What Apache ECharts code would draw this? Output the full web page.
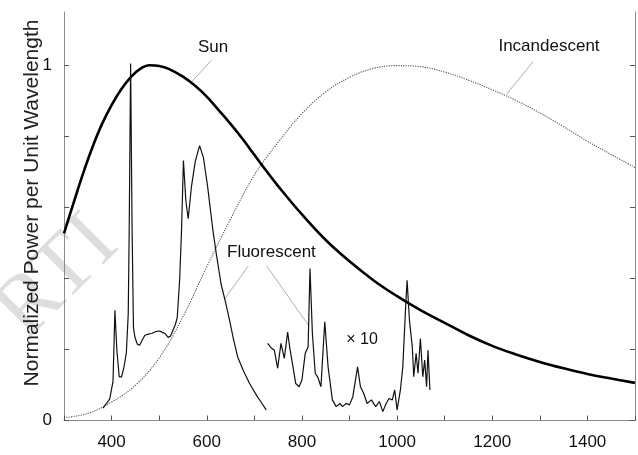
<!DOCTYPE html>
<html>
<head>
<meta charset="utf-8">
<script src="https://cdn.jsdelivr.net/npm/echarts@6/dist/echarts.min.js"></script>
<style>html,body{margin:0;padding:0;background:#fff;}#c{width:638px;height:455px;}</style>
</head>
<body>
<div id="c"></div>
<script>
// ---- data ----
const sunX = [300, 320, 340, 360, 380, 400, 420, 440, 460, 480, 500, 520, 550, 575, 600, 625, 650, 675, 700, 725, 750, 800, 850, 900, 950, 1000, 1050, 1100, 1150, 1200, 1250, 1300, 1350, 1400, 1450, 1500];
const sunY = [0.527, 0.612, 0.695, 0.77, 0.835, 0.888, 0.932, 0.966, 0.99, 1.0, 0.998, 0.99, 0.968, 0.943, 0.912, 0.874, 0.835, 0.793, 0.748, 0.703, 0.66, 0.58, 0.508, 0.448, 0.395, 0.35, 0.31, 0.275, 0.24, 0.21, 0.186, 0.165, 0.147, 0.131, 0.118, 0.106];

const incX = [300, 350, 400, 450, 500, 550, 600, 650, 700, 750, 800, 850, 900, 950, 1000, 1050, 1100, 1150, 1200, 1250, 1300, 1350, 1400, 1450, 1500];
const incY = [0.008, 0.02, 0.052, 0.099, 0.176, 0.292, 0.433, 0.567, 0.691, 0.783, 0.864, 0.925, 0.966, 0.991, 0.999, 0.996, 0.981, 0.958, 0.931, 0.901, 0.866, 0.827, 0.786, 0.749, 0.712];

const fluorX1 = [382, 396, 403, 407, 411, 416, 421, 426, 431, 435, 437, 440, 443, 446, 449, 454, 459, 465, 470, 477, 484, 492, 501, 507, 512, 519, 524, 529, 534, 538, 543, 547, 551, 556, 561, 568, 576, 585, 593, 602, 608, 613, 620, 630, 640, 648, 656, 665, 677, 690, 705, 715, 725];
const fluorY1 = [0.035, 0.06, 0.11, 0.31, 0.2, 0.123, 0.123, 0.15, 0.19, 0.3, 0.535, 1.005, 0.55, 0.26, 0.235, 0.215, 0.212, 0.228, 0.24, 0.243, 0.245, 0.25, 0.252, 0.248, 0.245, 0.234, 0.238, 0.254, 0.27, 0.29, 0.395, 0.535, 0.732, 0.62, 0.568, 0.66, 0.73, 0.774, 0.74, 0.657, 0.59, 0.535, 0.47, 0.385, 0.33, 0.282, 0.23, 0.179, 0.14, 0.104, 0.07, 0.05, 0.03];

const fluorX2 = [728, 735, 742, 749, 756, 763, 770, 775, 780, 787, 794, 800, 807, 813, 817, 822, 828, 833, 840, 848, 855, 864, 872, 880, 885, 893, 900, 907, 917, 923, 930, 937, 946, 955, 963, 970, 977, 983, 990, 995, 1000, 1007, 1012, 1018, 1021, 1026, 1032, 1035, 1040, 1044, 1049, 1054, 1058, 1062, 1065, 1069];
const fluorY2 = [0.217, 0.205, 0.198, 0.147, 0.217, 0.175, 0.249, 0.2, 0.161, 0.104, 0.095, 0.114, 0.189, 0.207, 0.428, 0.245, 0.133, 0.123, 0.095, 0.278, 0.151, 0.058, 0.039, 0.048, 0.039, 0.048, 0.044, 0.067, 0.151, 0.095, 0.076, 0.048, 0.058, 0.039, 0.053, 0.025, 0.048, 0.062, 0.058, 0.086, 0.03, 0.086, 0.151, 0.32, 0.395, 0.282, 0.207, 0.123, 0.189, 0.133, 0.231, 0.123, 0.17, 0.095, 0.198, 0.086];

const xTicks = { min: 300, max: 1500, step: 100, labelStep: 200 };
const yTickValues = [0, 0.2, 0.4, 0.6, 0.8, 1.0];
const yLabelValues = [0, 1];
const yTitle = 'Normalized Power per Unit Wavelength';

const zip = (xs, ys) => xs.map((x, i) => [x, ys[i]]);

const FONT = "'Liberation Sans', Arial, Helvetica, sans-serif";
const axisGray = '#8a8a8a';

const chart = echarts.init(document.getElementById('c'), null, { renderer: 'canvas' });

const yAxisCommon = {
  type: 'value', min: 0, max: 1.15,
  axisLine: { show: true, lineStyle: { color: axisGray, width: 1 } },
  axisTick: { show: true, inside: true, length: 5, customValues: yTickValues, lineStyle: { color: '#555' } },
  splitLine: { show: false }
};

chart.setOption({
  animation: false,
  backgroundColor: '#fff',
  grid: { left: 64, right: 1, top: 12, bottom: 34.5, containLabel: false },
  xAxis: {
    type: 'value', min: xTicks.min, max: xTicks.max, interval: xTicks.step,
    axisLine: { show: true, lineStyle: { color: axisGray, width: 1 } },
    axisTick: { show: true, inside: true, length: 5, lineStyle: { color: '#555' } },
    axisLabel: {
      margin: 13, color: '#111', fontSize: 17, fontFamily: FONT,
      formatter: v => (v % xTicks.labelStep === 0 && v > xTicks.min && v < xTicks.max) ? String(v) : ''
    },
    splitLine: { show: false }
  },
  yAxis: [
    Object.assign({}, yAxisCommon, {
      position: 'left',
      axisLabel: { show: true, customValues: yLabelValues, margin: 12, color: '#111', fontSize: 17, fontFamily: FONT,
        formatter: v => (v === 0 || v === 1) ? String(v) : '' }
    }),
    Object.assign({}, yAxisCommon, {
      position: 'right',
      axisLabel: { show: false }
    })
  ],
  graphic: [
    { type: 'text', x: 58, y: 278, rotation: Math.PI / 4, z: -1, silent: true,
      style: { text: 'RTI', fontSize: 86, fontFamily: "'Liberation Serif', 'DejaVu Serif', serif", fill: '#dedede', align: 'center', verticalAlign: 'middle' } },
    { type: 'text', x: 32, y: 203, rotation: Math.PI / 2,
      style: { text: yTitle, fontSize: 21, fontFamily: FONT, fill: '#222', align: 'center', verticalAlign: 'middle' } },
    { type: 'text', x: 213, y: 47, style: { text: 'Sun', fontSize: 17, fontFamily: FONT, fill: '#111', align: 'center', verticalAlign: 'middle' } },
    { type: 'line', shape: { x1: 211.7, y1: 60, x2: 190, y2: 83.5 }, style: { stroke: '#999', lineWidth: 0.8 } },
    { type: 'text', x: 549, y: 46, style: { text: 'Incandescent', fontSize: 17, fontFamily: FONT, fill: '#111', align: 'center', verticalAlign: 'middle' } },
    { type: 'line', shape: { x1: 533, y1: 61.7, x2: 506.7, y2: 94 }, style: { stroke: '#999', lineWidth: 0.8 } },
    { type: 'text', x: 227, y: 252, style: { text: 'Fluorescent', fontSize: 17, fontFamily: FONT, fill: '#111', align: 'left', verticalAlign: 'middle' } },
    { type: 'line', shape: { x1: 248.3, y1: 266, x2: 225, y2: 298.3 }, style: { stroke: '#999', lineWidth: 0.8 } },
    { type: 'line', shape: { x1: 266.7, y1: 266, x2: 308.3, y2: 325 }, style: { stroke: '#999', lineWidth: 0.8 } },
    { type: 'text', x: 362, y: 340, style: { text: '× 10', fontSize: 16, fontFamily: FONT, fill: '#111', align: 'center', verticalAlign: 'middle' } }
  ],
  series: [
    { name: 'Incandescent', type: 'line', data: zip(incX, incY), smooth: 0.4, showSymbol: false, symbol: 'none',
      lineStyle: { color: '#555', width: 1.1, type: [1.2, 1.2] }, z: 2 },
    { name: 'Sun', type: 'line', data: zip(sunX, sunY), smooth: 0.4, showSymbol: false, symbol: 'none',
      lineStyle: { color: '#000', width: 2.6 }, z: 3 },
    { name: 'Fluorescent', type: 'line', data: zip(fluorX1, fluorY1), smooth: false, showSymbol: false, symbol: 'none',
      lineStyle: { color: '#111', width: 1.2 }, z: 4 },
    { name: 'Fluorescent ×10', type: 'line', data: zip(fluorX2, fluorY2), smooth: false, showSymbol: false, symbol: 'none',
      lineStyle: { color: '#111', width: 1.2 }, z: 4 }
  ]
});
</script>
</body>
</html>
